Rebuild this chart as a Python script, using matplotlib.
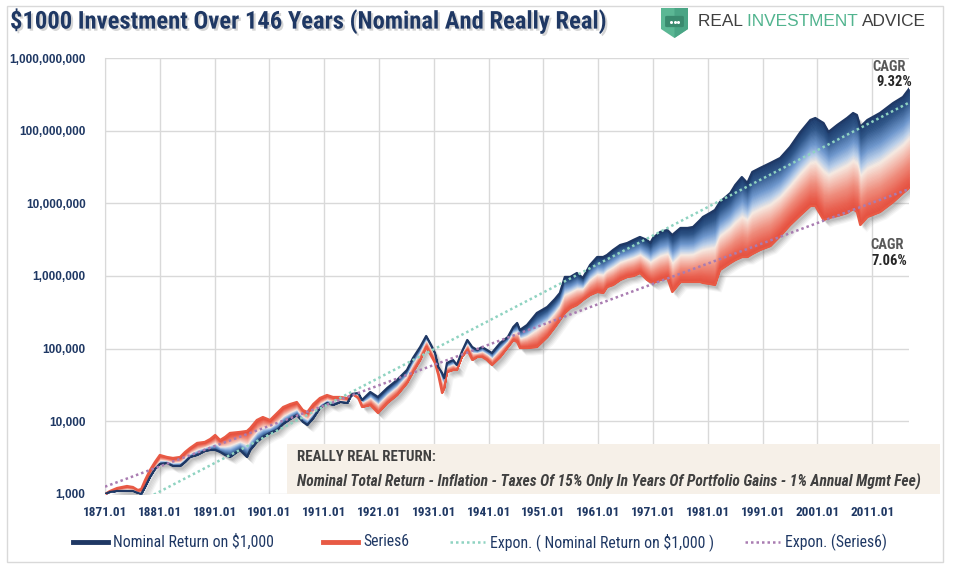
import matplotlib
matplotlib.use("Agg")
import numpy as np
import matplotlib.pyplot as plt
from matplotlib import font_manager, patheffects as pe
from matplotlib.colors import LinearSegmentedColormap
from matplotlib.lines import Line2D
from matplotlib.patches import Rectangle, Polygon, FancyBboxPatch
from matplotlib.ticker import FixedLocator, FuncFormatter, NullLocator
from matplotlib.transforms import offset_copy

# ---- data (monthly series thinned out) ----
years = [1871.0, 1871.9, 1873.2, 1875.0, 1876.1, 1877.0, 1877.6, 1878.3, 1879.2, 1880.1,
         1881.0, 1882.3, 1883.4, 1884.7, 1885.6, 1886.5, 1887.8, 1889.2, 1890.2, 1891.1,
         1892.0, 1892.9, 1893.8, 1895.6, 1896.9, 1897.5, 1898.7, 1899.8, 1901.1, 1902.4,
         1903.5, 1904.8, 1906.0, 1907.1, 1907.9, 1909.0, 1910.2, 1911.5, 1912.6, 1913.9,
         1915.2, 1916.1, 1917.2, 1917.9, 1919.4, 1920.8, 1922.5, 1924.3, 1926.1, 1927.2,
         1928.5, 1929.6, 1930.3, 1931.2, 1931.8, 1932.5, 1932.9, 1933.4, 1934.5, 1935.2,
         1936.1, 1937.1, 1938.0, 1938.9, 1939.8, 1940.7, 1941.6, 1943.1, 1944.5, 1945.5,
         1946.2, 1946.7, 1948.0, 1949.8, 1951.7, 1953.1, 1954.0, 1954.9, 1955.9, 1957.1,
         1958.2, 1959.5, 1960.8, 1961.9, 1962.6, 1963.7, 1965.0, 1966.3, 1967.4, 1968.6,
         1969.9, 1970.5, 1971.0, 1972.3, 1973.6, 1974.5, 1976.0, 1977.3, 1978.3, 1979.6,
         1980.1, 1981.4, 1982.3, 1983.2, 1985.1, 1986.0, 1987.2, 1988.2, 1989.1, 1990.5,
         1992.4, 1994.2, 1996.0, 1997.9, 1999.7, 2000.6, 2002.1, 2003.0, 2004.6, 2006.4,
         2007.5, 2008.2, 2008.8, 2010.1, 2012.4, 2014.8, 2016.6, 2017.7]

nominal = [1000, 1065, 1100, 1100, 1100, 1032, 1000, 1248, 1714, 2209,
           2589, 2672, 2430, 2430, 2758, 3232, 3444, 3910, 4036, 4036,
           3788, 3444, 3232, 4036, 3232, 4036, 5202, 6096, 6920, 7611,
           9206, 10770, 12220, 9809, 8919, 11110, 15260, 17880, 16780, 18450,
           17880, 23800, 24550, 19660, 25350, 21630, 28770, 37090, 50930, 74520,
           105400, 149400, 119700, 87300, 56000, 46300, 39500, 63600, 69900, 59700,
           90100, 131600, 105400, 96000, 105400, 96000, 87300, 119700, 144800, 198800,
           225700, 180700, 211700, 310000, 375000, 483000, 584000, 971000, 971000, 1.10e6,
           940000, 1.417e6, 1.826e6, 1.826e6, 1.946e6, 2.28e6, 2.672e6, 2.847e6, 3.131e6, 3.444e6,
           3.131e6, 2.847e6, 3.337e6, 4.036e6, 4.301e6, 3.67e6, 4.582e6, 4.582e6, 4.73e6, 5.906e6,
           6.495e6, 7.373e6, 8.109e6, 1.043e7, 1.387e7, 1.788e7, 2.30e7, 1.905e7, 2.70e7, 3.06e7,
           3.59e7, 4.21e7, 5.97e7, 9.60e7, 1.402e8, 1.494e8, 1.275e8, 9.60e7, 1.197e8, 1.494e8,
           1.75e8, 1.643e8, 1.123e8, 1.402e8, 1.75e8, 2.40e8, 2.91e8, 3.75e8]

real = [1000, 1100, 1209, 1289, 1248, 1135, 1172, 1558, 2140, 2758,
        3444, 3232, 3131, 3232, 3788, 4301, 5040, 5202, 5721, 6495,
        5543, 6096, 6920, 7143, 7373, 8109, 10430, 11470, 10430, 13020,
        15750, 17320, 18450, 14320, 13440, 17320, 20940, 23050, 21630, 21630,
        20940, 23800, 20940, 15750, 16780, 13020, 17880, 23050, 33720, 47800,
        69900, 105400, 84600, 63600, 43500, 24550, 28770, 47800, 50930, 50930,
        76900, 96000, 69900, 76900, 76900, 69900, 59700, 76900, 105400, 131600,
        123500, 102100, 102100, 105400, 144800, 198800, 248000, 310000, 363000, 399000,
        468000, 548000, 603000, 584000, 706000, 753000, 882000, 971000, 1.0e6, 1.10e6,
        882000, 828000, 803000, 882000, 940000, 603000, 828000, 828000, 828000, 828000,
        803000, 777000, 753000, 1.209e6, 1.51e6, 1.66e6, 1.826e6, 1.826e6, 2.009e6, 2.28e6,
        2.589e6, 3.555e6, 5.04e6, 6.92e6, 9.206e6, 9.206e6, 5.906e6, 6.292e6, 6.704e6, 7.373e6,
        8.371e6, 7.611e6, 5.04e6, 6.495e6, 7.611e6, 1.043e7, 1.387e7, 1.625e7]

# Excel "Expon." trendlines, start / end values
trend_years = [1871.0, 2017.7]
nominal_trend = [439, 2.43e8]
real_trend = [1260, 1.57e7]

y_ticks = [1e3, 1e4, 1e5, 1e6, 1e7, 1e8, 1e9]
x_ticks = list(range(1871, 2012, 10))
x_labels = [f"{y}.01" for y in x_ticks]

title = "$1000 Investment Over 146 Years (Nominal And Really Real)"
nominal_cagr = "9.32%"
real_cagr = "7.06%"
legend_labels = ["Nominal Return on $1,000", "Series6", "Expon. ( Nominal Return on $1,000 )", "Expon. (Series6)"]

NAVY = "#1f3864"
RED = "#e85a45"
TEAL = "#8fd3c1"
PURPLE = "#a97cb1"
GRID = "#d9d9d9"
DOTS = (0, (1, 1.2))


def pick_font(*names):
    for n in names:
        try:
            font_manager.findfont(font_manager.FontProperties(family=n), fallback_to_default=False)
            return n
        except ValueError:
            continue
    return "DejaVu Sans"


narrow = pick_font("Liberation Sans Narrow", "Roboto Condensed", "Open Sans Condensed", "Liberation Sans")
arial = pick_font("Liberation Sans", "DejaVu Sans")

W, H = 956, 568


def px(x, y):
    return x / W, 1 - y / H


fig = plt.figure(figsize=(W / 100, H / 100), dpi=100)
fig.patch.set_facecolor("white")
ax = fig.add_axes([105 / W, 1 - 494 / H, (909 - 105) / W, (494 - 58) / H])

yrs = np.array(years)
nom = np.array(nominal, dtype=float)
rea = np.array(real, dtype=float)

# soft drop shadow under the band
lower = np.minimum(nom, rea)
upper = np.maximum(nom, rea)
for dx, dy, a in [(6, -7, 0.06), (5, -6, 0.08), (4, -5, 0.10), (3, -4, 0.12), (2, -3, 0.14)]:
    tr = offset_copy(ax.transData, fig=fig, x=dx, y=dy, units="dots")
    ax.fill_between(yrs, lower, upper, transform=tr, color="#606060", alpha=a, lw=0, zorder=1)

# gradient band from nominal (navy) to real (red)
cmap = LinearSegmentedColormap.from_list("band", [
    (0.0, "#1b3a6b"), (0.12, "#2d5487"), (0.3, "#6f98cf"), (0.42, "#b9cfea"),
    (0.5, "#f7ebe3"), (0.6, "#f6c4b8"), (0.75, "#f08c7c"), (0.9, "#ea604f"), (1.0, "#e54e3c")])
lo = np.log10(nom)
hi = np.log10(rea)
n_strips = 70
for k in range(n_strips):
    t0, t1 = k / n_strips, (k + 1) / n_strips
    c = cmap((t0 + t1) / 2)
    ax.fill_between(yrs, 10 ** (lo + (hi - lo) * t0), 10 ** (lo + (hi - lo) * t1),
                    facecolor=c, edgecolor=c, lw=0.5, zorder=2)

ax.plot(yrs, rea, color=RED, lw=1.6, zorder=3)
ax.plot(yrs, nom, color=NAVY, lw=1.6, zorder=3)

ax.plot(trend_years, nominal_trend, color=TEAL, lw=1.8, ls=DOTS, zorder=4)
ax.plot(trend_years, real_trend, color=PURPLE, lw=1.8, ls=DOTS, zorder=4)

ax.set_yscale("log")
ax.set_ylim(1e3, 1e9)
ax.set_xlim(1871, 2017.7)
ax.yaxis.set_major_locator(FixedLocator(y_ticks))
ax.yaxis.set_minor_locator(NullLocator())
ax.yaxis.set_major_formatter(FuncFormatter(lambda v, _: f"{v:,.0f}"))
ax.set_xticks(x_ticks)
ax.set_xticklabels(x_labels)
ax.grid(True, color=GRID, lw=1)
ax.set_axisbelow(True)
for s in ["top", "right", "bottom"]:
    ax.spines[s].set_visible(False)
ax.spines["left"].set_color(GRID)
ax.tick_params(length=0)
ax.tick_params(axis="y", pad=14, labelcolor=NAVY)
ax.tick_params(axis="x", pad=9, labelcolor=NAVY)
for lab in ax.get_yticklabels():
    lab.set_fontfamily(arial)
    lab.set_fontweight("bold")
    lab.set_fontsize(8.5)
for lab in ax.get_xticklabels():
    lab.set_fontfamily(narrow)
    lab.set_fontweight("bold")
    lab.set_fontsize(9.5)

# title
fig.text(*px(10, 21), title, fontsize=17.7, fontweight="bold", color=NAVY, family=narrow, va="center",
         path_effects=[pe.withSimplePatchShadow(offset=(1.5, -1.5), shadow_rgbFace="#888888", alpha=0.35)])

# logo
fig.add_artist(Polygon([px(661, 8), px(688, 8), px(688, 29), px(674.5, 38), px(661, 29)], closed=True,
                       transform=fig.transFigure, facecolor="#5bb794", edgecolor="none"))
fig.add_artist(Polygon([px(674.5, 8), px(688, 8), px(688, 29), px(674.5, 38)], closed=True,
                       transform=fig.transFigure, facecolor="#4aa585", edgecolor="none"))
fig.add_artist(FancyBboxPatch(px(667, 26), 15 / W, 9 / H, boxstyle="round,pad=0.002",
                              transform=fig.transFigure, facecolor="#3a8a6e", edgecolor="none"))
fig.add_artist(Line2D([671 / W, 674.5 / W, 678 / W], [1 - 21.5 / H] * 3, transform=fig.transFigure,
                      ls="none", marker="o", ms=2.2, color="white", mec="none"))

renderer = fig.canvas.get_renderer()
x0 = 698
for word, col in [("REAL ", "#3f3f3f"), ("INVESTMENT ", "#52b48f"), ("ADVICE", "#3f3f3f")]:
    t = fig.text(*px(x0, 21), word, fontsize=12.4, color=col, family=arial, va="center")
    x0 += t.get_window_extent(renderer=renderer).width

# CAGR labels
fig.text(*px(906, 67), "CAGR", fontsize=10.5, fontweight="bold", color="#595959", family=narrow, ha="right", va="center")
fig.text(*px(912, 82), nominal_cagr, fontsize=10.5, fontweight="bold", color="#262626", family=narrow, ha="right", va="center")
fig.text(*px(904, 245), "CAGR", fontsize=10.5, fontweight="bold", color="#595959", family=narrow, ha="right", va="center")
fig.text(*px(907, 261), real_cagr, fontsize=10.5, fontweight="bold", color="#262626", family=narrow, ha="right", va="center")

# note box
fig.add_artist(Rectangle(px(287, 494), (940 - 287) / W, 50 / H, transform=fig.transFigure,
                         facecolor="#f6f0e8", edgecolor="none", zorder=5))
fig.text(*px(297, 457), "REALLY REAL RETURN:", fontsize=10.7, fontweight="bold", color="#404040",
         family=narrow, va="center", zorder=6)
fig.text(*px(297, 481),
         "Nominal Total Return - Inflation - Taxes Of 15% Only In Years Of Portfolio Gains - 1% Annual Mgmt Fee)",
         fontsize=11.2, fontweight="bold", style="italic", color="#404040", family=narrow, va="center", zorder=6)

# legend, laid out like the Excel one
legend_styles = [
    dict(color=NAVY, lw=3.5),
    dict(color=RED, lw=3.5),
    dict(color=TEAL, lw=1.8, ls=DOTS),
    dict(color=PURPLE, lw=1.8, ls=DOTS),
]
legend_x = [73, 323, 450, 745]
for lx, style, label in zip(legend_x, legend_styles, legend_labels):
    fig.add_artist(Line2D([lx / W, (lx + 35) / W], [1 - 542 / H] * 2, transform=fig.transFigure, **style))
    fig.text(*px(lx + 40, 542), label, fontsize=11.3, color=NAVY, family=narrow, va="center")

# outer border
fig.add_artist(Rectangle(px(7, 562), (943 - 7) / W, (562 - 6) / H, transform=fig.transFigure,
                         facecolor="none", edgecolor=GRID, lw=1))

fig.savefig("out.png", dpi=100)
